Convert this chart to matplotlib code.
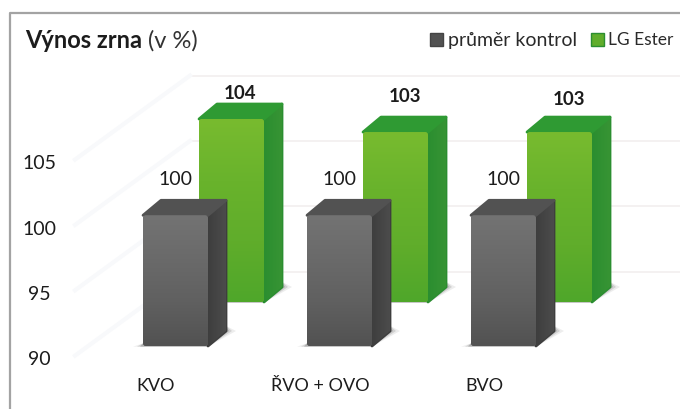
"""Vynos zrna: oblique 3D bars, drawn by hand on a flat axes."""
import matplotlib

matplotlib.use("Agg")
import matplotlib.pyplot as plt
import numpy as np
from matplotlib.colors import LinearSegmentedColormap
from matplotlib.patches import FancyBboxPatch, Polygon, Rectangle

categories = ["KVO", "ŘVO + OVO", "BVO"]
kontrol = [100, 100, 100]
ester = [104, 103, 103]
yticks = [90, 95, 100, 105]
grid_levels = [95, 100, 105, 110]
series_names = ["průměr kontrol", "LG Ester"]

W, H = 680, 410
PX_X = 164.0  # px per category
PX_Y = 13.07  # px per percent
X0 = 175.5  # px of first gray bar centre
Y90 = 347.0  # px of value 90 on the front plane
BAR_W = 65 / PX_X
DX, DY = 18 / PX_X, 15 / PX_Y  # bar depth
BACK_X, BACK_Y = 56 / PX_X, 44 / PX_Y  # green sits behind gray

GRAY = {
    "front": ["#525252", "#606060", "#6a6a6a", "#737373"],
    "side": ["#3e3e3e", "#4c4c4c"],
    "top": "#525252",
}
GREEN = {
    "front": ["#4fa72a", "#60ad2b", "#69b32c", "#78bb2f"],
    "side": ["#2b8e30", "#379434"],
    "top": "#2f9a33",
}
TEXT = "#1c1c1c"

plt.rcParams["font.family"] = ["Lato", "DejaVu Sans"]


def x_px(px):
    return (px - X0) / PX_X


def y_px(px):
    return 90 + (Y90 - px) / PX_Y


def gradient(ax, colors, extent, clip, zorder, horizontal=False):
    cmap = LinearSegmentedColormap.from_list("face", colors)
    ramp = np.linspace(0, 1, 128)
    ramp = ramp[None, :] if horizontal else ramp[:, None]
    im = ax.imshow(ramp, cmap=cmap, extent=extent, origin="lower", aspect="auto", zorder=zorder)
    im.set_clip_path(clip)


def draw_bar(ax, xc, top, base, palette, zorder):
    left, right = xc - BAR_W / 2, xc + BAR_W / 2

    # soft contact shadow on the floor
    for grow, alpha in [(10, 0.10), (6, 0.18), (3, 0.28)]:
        g = grow / PX_X
        ax.add_patch(Polygon(
            [(left - g, base - 0.05), (right, base - 0.05), (right + DX + g, base + DY),
             (right + DX, base + DY + 0.4), (left, base + 0.2)],
            facecolor="#555555", alpha=alpha, edgecolor="none", zorder=zorder))

    side = Polygon([(right, base), (right + DX, base + DY), (right + DX, top + DY), (right, top)],
                   facecolor=palette["side"][0], edgecolor=palette["side"][0],
                   lw=2, joinstyle="round", zorder=zorder + 0.1)
    ax.add_patch(side)
    gradient(ax, palette["side"], (right, right + DX, base, top + DY), side, zorder + 0.2, horizontal=True)

    ax.add_patch(Polygon([(left, top), (right, top), (right + DX, top + DY), (left + DX, top + DY)],
                         facecolor=palette["top"], edgecolor=palette["top"],
                         lw=2, joinstyle="round", zorder=zorder + 0.3))

    front = FancyBboxPatch((left, base), BAR_W, top - base,
                           boxstyle="round,pad=0,rounding_size=0.018",
                           mutation_aspect=PX_X / PX_Y,
                           facecolor=palette["front"][1], edgecolor="none", zorder=zorder + 0.4)
    ax.add_patch(front)
    gradient(ax, palette["front"], (left, right, base, top), front, zorder + 0.5)


fig = plt.figure(figsize=(W / 100, H / 100), dpi=100, facecolor="white")
ax = fig.add_axes([0, 0, 1, 1])

# faint back wall and side wall lines
for level in grid_levels:
    y_back = level + 9 / PX_Y
    ax.plot([x_px(190), x_px(W)], [y_back, y_back], color="#f1eeee", lw=1.1, zorder=1)
    ax.plot([x_px(75), x_px(190)], [y_back - 84 / PX_Y, y_back], color="#f8f9fb", lw=3, zorder=1)

xs = np.arange(len(categories))

# bars back to front
for i in range(len(categories))[::-1]:
    draw_bar(ax, xs[i] + BACK_X, ester[i] + BACK_Y, 90 + BACK_Y, GREEN, 3 + 2 * i)
for i in range(len(categories))[::-1]:
    draw_bar(ax, xs[i], kontrol[i], 90, GRAY, 10 + 2 * i)

# value labels
ester_lift = [27, 37, 34]
for i in xs:
    ax.annotate(str(kontrol[i]), (xs[i], kontrol[i]), xytext=(0, 37 * 0.72), textcoords="offset points",
                ha="center", va="center", fontsize=14, color=TEXT, zorder=30)
    ax.annotate(str(ester[i]), (xs[i] + BACK_X + DX / 2, ester[i] + BACK_Y),
                xytext=(0, ester_lift[i] * 0.72), textcoords="offset points",
                ha="center", va="center", fontsize=13.5, fontweight="bold", color=TEXT, zorder=30)

# axis labels
for v in yticks:
    ax.annotate(str(v), (x_px(39), v), xytext=(0, -13 * 0.72), textcoords="offset points",
                ha="center", va="center", fontsize=14, color=TEXT)
for i, name in enumerate(categories):
    ax.text(xs[i] - 19.5 / PX_X, y_px(386), name, ha="center", va="center", fontsize=13, color=TEXT)

# title
title = ax.text(x_px(25), y_px(41), "Výnos zrna", ha="left", va="center",
                fontsize=17, fontweight="bold", color=TEXT)
ax.annotate(" (v %)", xycoords=title, xy=(1, 0.5), ha="left", va="center", fontsize=17, color="#333333")

# legend
legend_x = [430, 591]
legend_text_x = [448, 608]
legend_sizes = [14, 12.5]
legend_faces = [GRAY["front"][0], GREEN["front"][1]]
legend_edges = ["#444444", GREEN["side"][0]]
for name, lx, tx, size, face, edge in zip(series_names, legend_x, legend_text_x, legend_sizes,
                                          legend_faces, legend_edges):
    ax.add_patch(Rectangle((x_px(lx), y_px(47)), 13 / PX_X, 13 / PX_Y, facecolor=face,
                           edgecolor=edge, lw=1.0, zorder=5))
    ax.text(x_px(tx), y_px(40.5), name, ha="left", va="center", fontsize=size, color="#2a2a2a")

# frame, cut off at the right and bottom of the crop
ax.plot([x_px(10), x_px(10), x_px(W)], [y_px(H), y_px(13.5), y_px(13.5)], color="#a3a3a3", lw=1.6, zorder=40)

ax.set_xlim(x_px(0), x_px(W))
ax.set_ylim(y_px(H), y_px(0))
ax.axis("off")

fig.savefig("out.png", dpi=100, facecolor="white")
